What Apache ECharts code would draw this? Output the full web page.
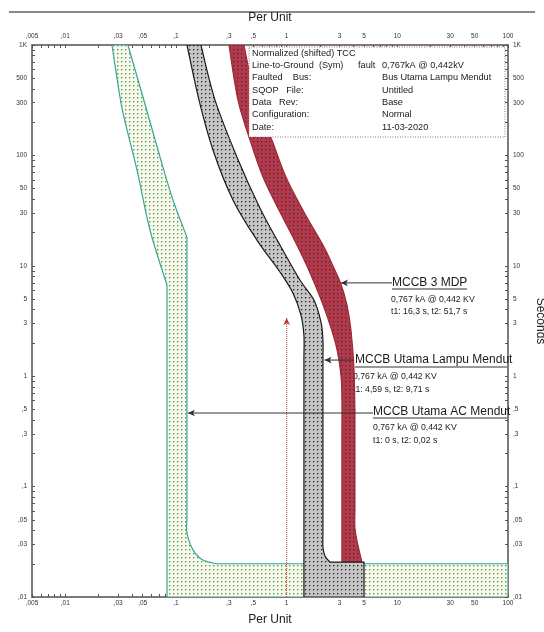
<!DOCTYPE html>
<html><head><meta charset="utf-8">
<script src="https://cdn.jsdelivr.net/npm/echarts@6/dist/echarts.min.js"></script>
<style>html,body{margin:0;padding:0;background:#fff}#c{width:544px;height:632px}</style>
</head><body><div id="c"></div>
<script>
// ---- tick labels ----
const xLabelValues = [0.005,0.01,0.03,0.05,0.1,0.3,0.5,1,3,5,10,30,50,100];
const xLabelTexts  = [',005',',01',',03',',05',',1',',3',',5','1','3','5','10','30','50','100'];
const yLabelValues = [0.01,0.03,0.05,0.1,0.3,0.5,1,3,5,10,30,50,100,300,500,1000];
const yLabelTexts  = [',01',',03',',05',',1',',3',',5','1','3','5','10','30','50','100','300','500','1K'];

// ---- curves (per unit, seconds) ----
// MCCB Utama AC Mendut
const acLeft   = [[0.0264,1000],[0.0298,450],[0.0332,242],[0.0444,73.8],[0.0582,21.1],[0.0829,6.7]];
const acCorner = [[0.0829,6.7],[0.0829,0.01],[100,0.01],[100,0.02]];
const acFoot   = [[0.2345,0.02],[0.175,0.0216],[0.1424,0.0267],[0.1256,0.038],[0.1256,0.05]];
const acRight  = [[0.1256,18.2],[0.0939,39.5],[0.0717,96.8],[0.0503,338],[0.0368,1000]];
// MCCB Utama Lampu Mendut
const lampuLeft   = [[0.1257,1000],[0.1613,318],[0.2158,112],[0.327,39.5],[0.539,17.1],[0.870,8.79],[1.139,5.67],[1.346,3.58],[1.432,2.36],[1.432,1.5]];
const lampuCorner = [[1.432,1.5],[1.432,0.01],[5,0.01],[5,0.0207]];
const lampuFoot   = [[2.46,0.0207],[2.218,0.0235],[2.127,0.0284],[2.127,0.036]];
const lampuRight  = [[2.127,1.5],[2.127,2.13],[2.04,3.1],[1.763,4.9],[1.318,7.43],[0.870,15.4],[0.573,33.4],[0.355,96.8],[0.225,318],[0.168,1000]];
// MCCB 3 MDP
const mdpLeft   = [[0.301,1000],[0.363,318],[0.466,138],[0.611,63.7],[0.870,30.7],[1.238,15.4],[1.657,8.25],[2.218,3.98],[2.787,1.92],[3.092,1.025],[3.157,0.609],[3.157,0.3]];
const mdpCorner = [[3.157,0.3],[3.157,0.0207]];
const mdpFoot   = [[4.79,0.0207],[4.40,0.0296],[4.14,0.0422],[4.14,0.06]];
const mdpRight  = [[4.14,0.494],[4.05,1.21],[3.81,2.62],[3.503,4.42],[3.092,6.84],[2.673,9.55],[2.127,15.4],[1.432,30.7],[0.985,63.7],[0.736,138],[0.528,318],[0.411,1000]];
// fault marker at 1 pu
const faultLine = [[1,0.01],[1,3.37]];
// label arrows [from, to]
const mdpArrow   = [[8.94,7.0],[3.09,7.0]];
const lampuArrow = [[4.05,1.40],[2.2,1.40]];
const acArrow    = [[6.02,0.464],[0.128,0.464]];

const lg = Math.log10;
function fmt(vals, texts){return v=>{for(let i=0;i<vals.length;i++){if(Math.abs(lg(vals[i])-v)<1e-6)return texts[i];}return '';};}
function minorTicks(lo,hi){const r=[];for(let e=-3;e<=3;e++){for(let k=1;k<=9;k++){const v=k*Math.pow(10,e);if(v>=lo*0.999&&v<=hi*1.001)r.push(lg(v));}}return r;}
function pat(bg,dot,size,r){const c=document.createElement('canvas');c.width=c.height=size;const g=c.getContext('2d');g.fillStyle=bg;g.fillRect(0,0,size,size);g.fillStyle=dot;g.fillRect(1,1,r,r);return {image:c,repeat:'repeat'};}

const greenFill = pat('#fdf9e4','#3a9f93',4,1.4);
const greyFill  = pat('#c6c6c6','#1e1e1e',4,1.3);
const redFill   = pat('#b73a42','#2a2a8a',4,1.3);

// edges: [{pts, straight}] ; smooth edges use Catmull-Rom, straight ones are polylines
function bandPath(edges, api){
  const d=[];
  edges.forEach((edge,ei)=>{
    const P=edge.pts.map(p=>api.coord([lg(p[0]),lg(p[1])]));
    P.forEach((p,i)=>{
      if(i===0){d.push((ei===0?'M':'L')+p[0].toFixed(2)+' '+p[1].toFixed(2));return;}
      if(edge.straight){d.push('L'+p[0].toFixed(2)+' '+p[1].toFixed(2));return;}
      const p0=P[Math.max(i-2,0)],p1=P[i-1],p2=p,p3=P[Math.min(i+1,P.length-1)];
      const c1=[p1[0]+(p2[0]-p0[0])/6,p1[1]+(p2[1]-p0[1])/6];
      const c2=[p2[0]-(p3[0]-p1[0])/6,p2[1]-(p3[1]-p1[1])/6];
      d.push('C'+[c1[0],c1[1],c2[0],c2[1],p2[0],p2[1]].map(v=>v.toFixed(2)).join(' '));
    });
  });
  return d.join(' ')+' Z';
}
function band(edges, fill, stroke, z){
  return {type:'custom',coordinateSystem:'cartesian2d',xAxisIndex:0,yAxisIndex:0,z:z,silent:true,clip:true,
    data:[[0,0]],
    renderItem:function(params,api){
      return {type:'path',shape:{pathData:bandPath(edges,api)},
        style:{fill:fill,stroke:stroke,lineWidth:1.2}};
    }};
}
function arrow(seg,color,type,rot,z){
  return {type:'line',xAxisIndex:0,yAxisIndex:0,silent:true,z:z,animation:false,
    lineStyle:{color:color,width:1,type:type},itemStyle:{color:color},
    data:[{value:[lg(seg[0][0]),lg(seg[0][1])],symbol:'none'},
          {value:[lg(seg[1][0]),lg(seg[1][1])],symbol:'arrow',symbolSize:[5,7],symbolRotate:rot}]};
}

const FONT = '"Liberation Sans", Arial, sans-serif';
const tickLabel = {fontSize:6.5,color:'#333',fontFamily:FONT};
function xAxis(pos){
  return {type:'value',position:pos,min:lg(0.005),max:2,
    name:'Per Unit',nameLocation:'middle',nameGap:pos==='top'?21:17,
    nameTextStyle:{fontSize:12,color:'#222',fontFamily:FONT},
    axisLine:{show:true,onZero:false,lineStyle:{color:'#7c7c7c',width:2}},
    axisTick:{show:true,inside:true,length:3,customValues:minorTicks(0.005,100),lineStyle:{color:'#555',width:1}},
    axisLabel:Object.assign({customValues:xLabelValues.map(lg),formatter:fmt(xLabelValues,xLabelTexts),margin:pos==='top'?5:3},tickLabel),
    splitLine:{show:false}};
}
function yAxis(pos){
  const o={type:'value',position:pos,min:-2,max:3,
    axisLine:{show:true,onZero:false,lineStyle:{color:'#7c7c7c',width:2}},
    axisTick:{show:true,inside:true,length:3,customValues:minorTicks(0.01,1000),lineStyle:{color:'#555',width:1}},
    axisLabel:Object.assign({customValues:yLabelValues.map(lg),formatter:fmt(yLabelValues,yLabelTexts),margin:5},tickLabel),
    splitLine:{show:false}};
  if(pos==='right'){o.name='Seconds';o.nameLocation='middle';o.nameRotate=-90;o.nameGap=21;o.nameTextStyle={fontSize:12,color:'#222',fontFamily:FONT};}
  return o;
}

function txt(x,y,s,size,z){return {type:'text',x:x,y:y,z:z||1,style:{text:s,fontSize:size,fontFamily:FONT,fill:'#1a1a1a',verticalAlign:'middle',align:'left'}};}
function hline(x1,x2,y,w,z){return {type:'line',z:z||1,shape:{x1:x1,y1:y,x2:x2,y2:y},style:{stroke:'#333',lineWidth:w||1}};}

const legendLines = [
  txt(252,53,'Normalized (shifted) TCC',9.2,21),
  txt(252,65,'Line-to-Ground  (Sym)',9.2,21), txt(358,65,'fault',9.2,21), txt(382,65,'0,767kA @ 0,442kV',9.2,21),
  txt(252,77,'Faulted    Bus:',9.2,21), txt(382,77,'Bus Utama Lampu Mendut',9.2,21),
  txt(252,90,'SQOP   File:',9.2,21), txt(382,90,'Untitled',9.2,21),
  txt(252,102,'Data   Rev:',9.2,21), txt(382,102,'Base',9.2,21),
  txt(252,114,'Configuration:',9.2,21), txt(382,114,'Normal',9.2,21),
  txt(252,127,'Date:',9.2,21), txt(382,127,'11-03-2020',9.2,21)
];

const chart = echarts.init(document.getElementById('c'),null,{renderer:'canvas'});
chart.setOption({
  animation:false,
  backgroundColor:'#fff',
  grid:{left:32,right:36,top:45,bottom:35,outerBoundsMode:'none'},
  xAxis:[xAxis('bottom'),xAxis('top')],
  yAxis:[yAxis('left'),yAxis('right')],
  series:[
    band([{pts:acLeft},{pts:acCorner,straight:true},{pts:acFoot},{pts:acRight}],greenFill,'#3aa597',3),
    band([{pts:mdpLeft},{pts:mdpCorner,straight:true},{pts:mdpFoot},{pts:mdpRight}],redFill,'#9e2a33',4),
    band([{pts:lampuLeft},{pts:lampuCorner,straight:true},{pts:lampuFoot},{pts:lampuRight}],greyFill,'#1a1a1a',5),
    arrow(faultLine,'#c0392b','dotted',0,6),
    arrow(mdpArrow,'#333','solid',90,6),
    arrow(lampuArrow,'#333','solid',90,6),
    arrow(acArrow,'#333','solid',90,6)
  ],
  graphic:[
    {type:'line',shape:{x1:9,y1:12,x2:535,y2:12},style:{stroke:'#8a8a8a',lineWidth:2}},
    {type:'rect',z:20,shape:{x:249,y:47,width:256,height:90},style:{fill:'#fff',stroke:'#b06a6a',lineWidth:1,lineDash:[1,1.5]}}
  ].concat(legendLines,[
    txt(392,283,'MCCB 3 MDP',12,1), hline(392,467,289,1.2),
    txt(391,300,'0,767 kA @ 0,442 KV',8.7,1),
    txt(391,312,'t1: 16,3 s, t2: 51,7 s',8.7,1),
    txt(355,360,'MCCB Utama Lampu Mendut',12,1), hline(355,507,367,1.2),
    txt(353,377,'0,767 kA @ 0,442 KV',8.7,1),
    txt(353,390,'t1: 4,59 s, t2: 9,71 s',8.7,1),
    txt(373,412,'MCCB Utama AC Mendut',12,1), hline(373,507,418,1.2),
    txt(373,428,'0,767 kA @ 0,442 KV',8.7,1),
    txt(373,441,'t1: 0 s, t2: 0,02 s',8.7,1)
  ])
});
</script></body></html>
